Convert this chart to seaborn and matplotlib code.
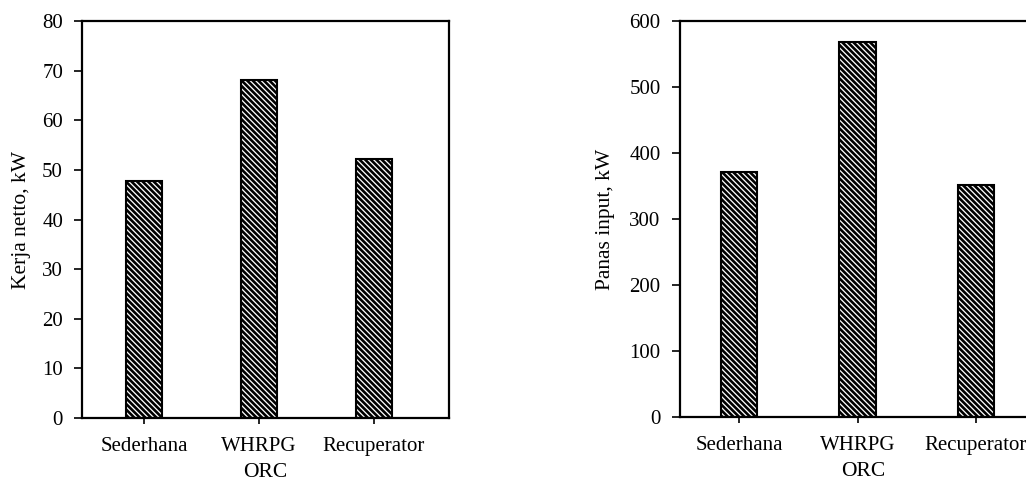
import matplotlib
matplotlib.use("Agg")
import matplotlib.pyplot as plt
import seaborn as sns
import pandas as pd

# ORC configurations and their results
categories = ["Sederhana", "WHRPG", "Recuperator"]
kerja_netto = [47.7, 68.1, 52.2]      # kW
panas_input = [371, 568, 351]         # kW

sns.set_theme(style="white")
plt.rcParams["font.family"] = ["Liberation Serif", "DejaVu Serif"]
plt.rcParams["hatch.linewidth"] = 1.9
plt.rcParams["hatch.color"] = "black"

fig = plt.figure(figsize=(10.26, 4.88), dpi=100)
ax1 = fig.add_axes([0.0804, 0.1434, 0.3572, 0.8136])
ax2 = fig.add_axes([0.6628, 0.1455, 0.3572, 0.8115])

df1 = pd.DataFrame({"ORC": categories, "val": kerja_netto})
df2 = pd.DataFrame({"ORC": categories, "val": panas_input})


def draw(ax, df, ylabel, ymax, ystep, xlim, ypad):
    sns.barplot(data=df, x="ORC", y="val", ax=ax, color="white",
                edgecolor="black", linewidth=1.5, width=0.31, saturation=1)
    for p in ax.patches:
        p.set_hatch("\\\\\\\\\\\\")
        p.set_facecolor("white")
        p.set_edgecolor("black")
    ax.set_ylim(0, ymax)
    ax.set_yticks(range(0, ymax + 1, ystep))
    ax.set_xlim(*xlim)
    ax.set_ylabel(ylabel, fontsize=15.5, color="black", labelpad=ypad)
    ax.set_xlabel("ORC", fontsize=15.5, color="black", labelpad=5)
    for s in ax.spines.values():
        s.set_color("black")
        s.set_linewidth(1.6)
    ax.tick_params(axis="y", direction="out", length=6, width=1.2,
                   labelsize=15, colors="black", left=True, pad=8)
    ax.tick_params(axis="x", direction="out", length=4, width=1.2,
                   labelsize=15, colors="black", bottom=True, pad=10)


draw(ax1, df1, "Kerja netto, kW", 80, 10, (-0.535, 2.652), 8)
draw(ax2, df2, "Panas input, kW", 600, 100, (-0.498, 2.595), 10)

fig.savefig("out.png", dpi=100)
